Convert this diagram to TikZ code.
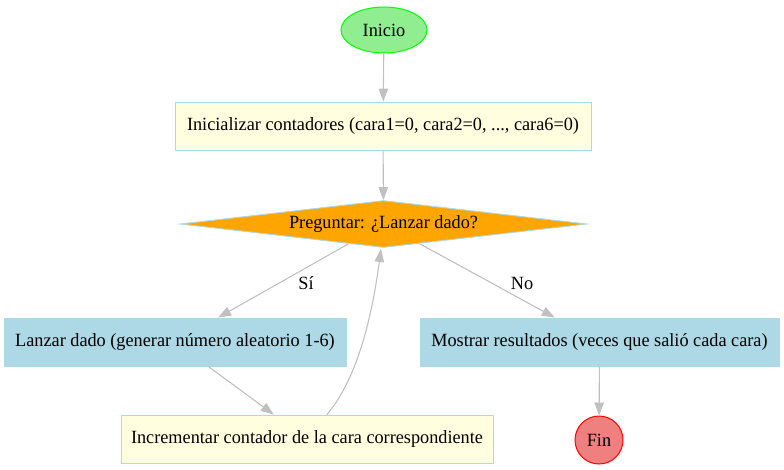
\documentclass[tikz,border=0pt]{standalone}
\usepackage{fontspec}
\setmainfont[FakeStretch=0.977]{Liberation Serif}
\usetikzlibrary{shapes.geometric,arrows.meta}
\definecolor{lgreen}{HTML}{90EE90}
\definecolor{lgborder}{HTML}{00FF00}
\definecolor{lyellow}{HTML}{FFFFE0}
\definecolor{lblue}{HTML}{ADD8E6}
\definecolor{orangef}{HTML}{FFA500}
\definecolor{lcoral}{HTML}{F08080}
\definecolor{redb}{HTML}{FF0000}
\definecolor{edgec}{HTML}{C0C0C0}
\tikzset{
  every node/.style={font=\fontsize{18.67}{21}\selectfont, inner sep=0pt},
  startnode/.style={ellipse, draw=lgborder, fill=lgreen, line width=1pt, minimum width=86pt, minimum height=46pt},
  endnode/.style={circle, draw=redb, fill=lcoral, line width=1pt, minimum size=48pt},
  yellowbox/.style={rectangle, draw=lblue, fill=lyellow, line width=0.9pt, minimum height=48pt},
  bluebox/.style={rectangle, draw=lblue, fill=lblue, line width=0.9pt, minimum height=48pt},
  decision/.style={diamond, draw=lblue, fill=orangef, line width=0.9pt, aspect=8.66, minimum width=407pt, minimum height=47pt},
  flow/.style={draw=edgec, line width=1.1pt, -{Triangle[length=13pt,width=9.5pt]}},
  elabel/.style={fill=none}
}
\begin{document}
\begin{tikzpicture}[x=1pt,y=-1pt]
\useasboundingbox (0,0) rectangle (784,469);
\node[startnode] (inicio) at (384,30) {Inicio};
\node[yellowbox, minimum width=416pt] (init) at (383,126) {Inicializar contadores (cara1=0, cara2=0, ..., cara6=0)};
\node[decision] (dec) at (383.5,224) {Preguntar: ¿Lanzar dado?};
\node[bluebox, minimum width=342pt] (lanzar) at (175,342) {Lanzar dado (generar número aleatorio 1-6)};
\node[bluebox, minimum width=359pt] (mostrar) at (599.5,342) {Mostrar resultados (veces que salió cada cara)};
\node[yellowbox, minimum width=372pt] (incr) at (307,439) {Incrementar contador de la cara correspondiente};
\node[endnode] (fin) at (599,440) {Fin};
\node[elabel] (si) at (306,283) {Sí};
\node[elabel] (no) at (522,283) {No};

\draw[flow] (inicio) -- (init);
\draw[flow] (init) -- (dec);
\draw[flow] (dec) -- (lanzar);
\draw[flow] (dec) -- (mostrar);
\draw[flow] (lanzar) -- (incr);
\draw[flow] ([xshift=20pt]incr.north) .. controls ([xshift=45pt,yshift=30pt]incr.north) and ([xshift=-14pt,yshift=-87pt]dec.south) .. ([xshift=-2.5pt,yshift=-1pt]dec.south);
\draw[flow] (mostrar) -- (fin);
\end{tikzpicture}
\end{document}
